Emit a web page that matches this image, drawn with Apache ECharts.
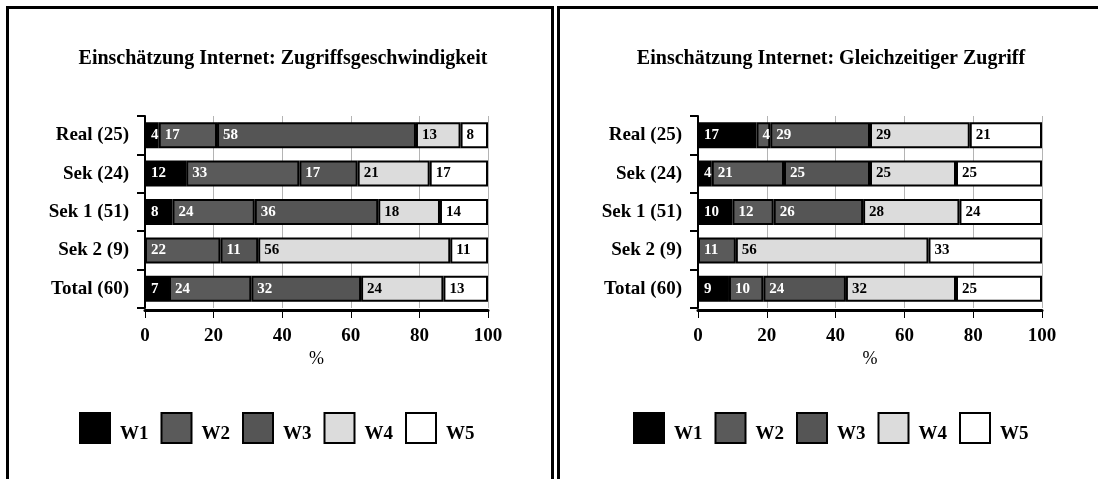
<!DOCTYPE html>
<html><head><meta charset="utf-8">
<script src="https://cdn.jsdelivr.net/npm/echarts@6/dist/echarts.min.js"></script>
<style>html,body{margin:0;padding:0;background:#fff}#c{width:1098px;height:479px}</style>
</head><body><div id="c"></div>
<script>
const categories = ['Real (25)', 'Sek (24)', 'Sek 1 (51)', 'Sek 2 (9)', 'Total (60)'];
const seriesNames = ['W1', 'W2', 'W3', 'W4', 'W5'];
const xTicks = [0, 20, 40, 60, 80, 100];
const title1 = 'Einschätzung Internet: Zugriffsgeschwindigkeit';
const title2 = 'Einschätzung Internet: Gleichzeitiger Zugriff';
// chart 1: Zugriffsgeschwindigkeit
const speedW1 = [4, 12, 8, 0, 7];
const speedW2 = [17, 33, 24, 22, 24];
const speedW3 = [58, 17, 36, 11, 32];
const speedW4 = [13, 21, 18, 56, 24];
const speedW5 = [8, 17, 14, 11, 13];
// chart 2: Gleichzeitiger Zugriff
const simW1 = [17, 4, 10, 0, 9];
const simW2 = [4, 21, 12, 11, 10];
const simW3 = [29, 25, 26, 0, 24];
const simW4 = [29, 25, 28, 56, 32];
const simW5 = [21, 25, 24, 33, 25];

const FONT = "'Liberation Serif', 'DejaVu Serif', serif";
const fills = ['#000000', '#5a5a5a', '#555555', '#dcdcdc', '#ffffff'];
const labelColors = ['#fff', '#fff', '#fff', '#000', '#000'];

function grid(left, right) { return { left: left, right: right, top: 116, height: 192 }; }

function xAxis(idx) {
  return {
    gridIndex: idx, type: 'value', min: 0, max: 100, interval: 20, offset: 2,
    name: '%', nameLocation: 'middle', nameGap: 40,
    nameTextStyle: { fontFamily: FONT, fontSize: 18, color: '#000' },
    axisLine: { show: true, lineStyle: { color: '#000', width: 3 } },
    axisTick: { show: true, length: 8, lineStyle: { color: '#000', width: 1 } },
    axisLabel: { fontFamily: FONT, fontWeight: 'bold', fontSize: 19, color: '#000', margin: 17,
      formatter: v => xTicks.includes(v) ? String(v) : '' },
    splitLine: { show: true, lineStyle: { color: '#b4b4b4', width: 1 } }
  };
}
function yAxis(idx) {
  return {
    gridIndex: idx, type: 'category', data: categories, inverse: true,
    axisLine: { show: true, lineStyle: { color: '#000', width: 2 } },
    axisTick: { show: true, length: 8, lineStyle: { color: '#000', width: 2 } },
    axisLabel: { fontFamily: FONT, fontWeight: 'bold', fontSize: 19, color: '#000', margin: 16 }
  };
}
function mkSeries(idx, arrays) {
  return arrays.map((arr, i) => ({
    name: seriesNames[i], type: 'bar', stack: 's' + idx,
    xAxisIndex: idx, yAxisIndex: idx, barWidth: 26,
    data: arr.map(v => v === 0 ? '-' : v),
    itemStyle: { color: fills[i], borderColor: '#000', borderWidth: 2 },
    label: { show: true, position: 'insideLeft', distance: 6,
      fontFamily: FONT, fontWeight: 'bold', fontSize: 15, color: labelColors[i],
      formatter: p => String(p.value) },
    emphasis: { disabled: true },
    animation: false
  }));
}
function legend(left) {
  return {
    left: left, top: 407, itemWidth: 30, itemHeight: 30, itemGap: 12,
    icon: 'rect', data: seriesNames,
    formatter: n => '{t|' + n + '}',
    textStyle: { fontFamily: FONT, fontWeight: 'bold', fontSize: 19, color: '#000',
      rich: { t: { fontFamily: FONT, fontWeight: 'bold', fontSize: 19, color: '#000', padding: [12, 0, 0, 5] } } }
  };
}

const chart = echarts.init(document.getElementById('c'), null, { renderer: 'canvas' });
chart.setOption({
  backgroundColor: '#fff',
  animation: false,
  title: [
    { text: title1, left: 278, top: 44, textAlign: 'center',
      textStyle: { fontFamily: FONT, fontWeight: 'bold', fontSize: 20, color: '#000' } },
    { text: title2, left: 826, top: 44, textAlign: 'center',
      textStyle: { fontFamily: FONT, fontWeight: 'bold', fontSize: 20, color: '#000' } }
  ],
  legend: [legend(74), legend(628)],
  grid: [grid(145, 1098 - 488), grid(698, 1098 - 1042)],
  xAxis: [xAxis(0), xAxis(1)],
  yAxis: [yAxis(0), yAxis(1)],
  series: mkSeries(0, [speedW1, speedW2, speedW3, speedW4, speedW5])
    .concat(mkSeries(1, [simW1, simW2, simW3, simW4, simW5])),
  graphic: [
    { type: 'rect', shape: { x: 7.5, y: 7.5, width: 545, height: 500 },
      style: { fill: 'none', stroke: '#000', lineWidth: 3 }, silent: true, z: -1 },
    { type: 'rect', shape: { x: 558.5, y: 7.5, width: 600, height: 500 },
      style: { fill: 'none', stroke: '#000', lineWidth: 3 }, silent: true, z: -1 }
  ]
});
</script></body></html>
